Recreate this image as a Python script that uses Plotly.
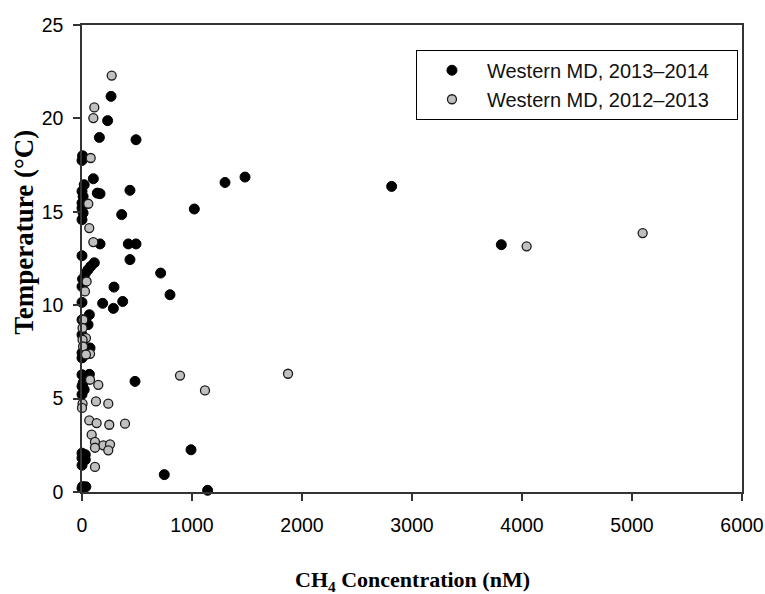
import plotly.graph_objects as go

# Western MD, 2013-2014 (black)
ch4_2013 = [264, 233, 158, 491, 5, 0, 103, 20, 0, 139, 164, 436, 2815, 1300, 1482,
            10, 0, 0, 10, 0, 361, 1021, 164, 421, 491, 3812, 436, 0, 112, 80, 55,
            30, 5, 0, 715, 291, 800, 188, 370, 285, 0, 67, 0, 55, 0, 73, 0, 0, 0,
            67, 10, 0, 20, 0, 482, 0, 30, 0, 30, 0, 991, 748, 1142, 5, 35, 0]
temp_2013 = [21.18, 19.88, 18.98, 18.86, 18.0, 17.75, 16.77, 16.45, 16.1, 16.0, 15.97,
             16.15, 16.36, 16.57, 16.86, 15.82, 15.47, 15.2, 14.94, 14.58, 14.85, 15.15,
             13.28, 13.28, 13.28, 13.24, 12.44, 12.65, 12.27, 12.08, 11.9, 11.7, 11.4,
             11.0, 11.72, 10.97, 10.56, 10.1, 10.2, 9.83, 10.15, 9.49, 9.22, 8.96, 8.42,
             7.71, 7.45, 7.18, 6.28, 6.3, 5.84, 5.66, 5.48, 5.22, 5.92, 2.08, 2.0, 1.82,
             1.73, 1.43, 2.26, 0.93, 0.09, 0.29, 0.28, 0.2]

# Western MD, 2012-2013 (gray)
ch4_2012 = [270, 112, 103, 79, 57, 66, 103, 42, 27, 12, 5, 36, 5, 10, 73, 36, 73, 148,
            5, 0, 127, 239, 66, 133, 248, 391, 88, 118, 194, 255, 239, 118, 118, 891,
            1873, 1118, 4042, 5097]
temp_2012 = [22.29, 20.59, 20.02, 17.88, 15.43, 14.13, 13.38, 11.27, 10.74, 9.22, 8.78,
             8.24, 8.15, 7.79, 7.4, 7.36, 6.01, 5.74, 4.73, 4.5, 4.85, 4.73, 3.83, 3.69,
             3.6, 3.66, 3.07, 2.68, 2.5, 2.55, 2.23, 2.37, 1.34, 6.23, 6.33, 5.44, 13.15,
             13.86]

x_ticks = [0, 1000, 2000, 3000, 4000, 5000, 6000]
y_ticks = [0, 5, 10, 15, 20, 25]

PAD = "\u00a0" * 4  # keeps the legend box as wide as the reference's

fig = go.Figure()
fig.add_trace(go.Scatter(
    x=ch4_2013, y=temp_2013, mode="markers", name="Western MD, 2013\u20132014" + PAD,
    marker=dict(color="black", size=10, line=dict(color="black", width=1)),
    cliponaxis=False, legendrank=1))
fig.add_trace(go.Scatter(
    x=ch4_2012, y=temp_2012, mode="markers", name="Western MD, 2012\u20132013" + PAD,
    marker=dict(color="#c0c0c0", size=9, line=dict(color="#1a1a1a", width=1.3)),
    cliponaxis=False, legendrank=2))

axis_common = dict(showgrid=False, zeroline=False, showline=True, linecolor="#333333",
                   linewidth=1.5, mirror=True, ticks="outside", ticklen=7,
                   tickcolor="#333333", tickwidth=1.5, automargin=False,
                   tickfont=dict(family="Liberation Sans, Arial", size=19.5, color="black"))

fig.update_xaxes(range=[0, 6000], tickvals=x_ticks, ticktext=[str(v) for v in x_ticks],
                 ticklabelstandoff=8, **axis_common)
fig.update_yaxes(range=[0, 25], tickvals=y_ticks, ticktext=[str(v) for v in y_ticks],
                 ticklabelstandoff=6, **axis_common)

fig.update_layout(
    width=765, height=594,
    margin=dict(l=82, r=23, t=25, b=102),
    paper_bgcolor="white", plot_bgcolor="white",
    showlegend=True,
    legend=dict(x=0.506, y=0.947, xanchor="left", yanchor="top",
                bordercolor="black", borderwidth=1, bgcolor="white",
                font=dict(family="Liberation Sans, Arial", size=20, color="#111111"),
                itemwidth=60, tracegroupgap=0),
    annotations=[
        dict(text="<b>CH<sub>4</sub> Concentration (nM)</b>", xref="paper", yref="paper",
             x=0.5, y=-0.19, xanchor="center", yanchor="middle", showarrow=False,
             font=dict(family="Liberation Serif, Times New Roman", size=22, color="black")),
        dict(text="<b>Temperature (\u00b0C)</b>", xref="paper", yref="paper",
             x=-0.088, y=0.557, xanchor="center", yanchor="middle", showarrow=False,
             textangle=-90,
             font=dict(family="Liberation Serif, Times New Roman", size=27, color="black")),
    ],
)

fig.write_html("out.html")
